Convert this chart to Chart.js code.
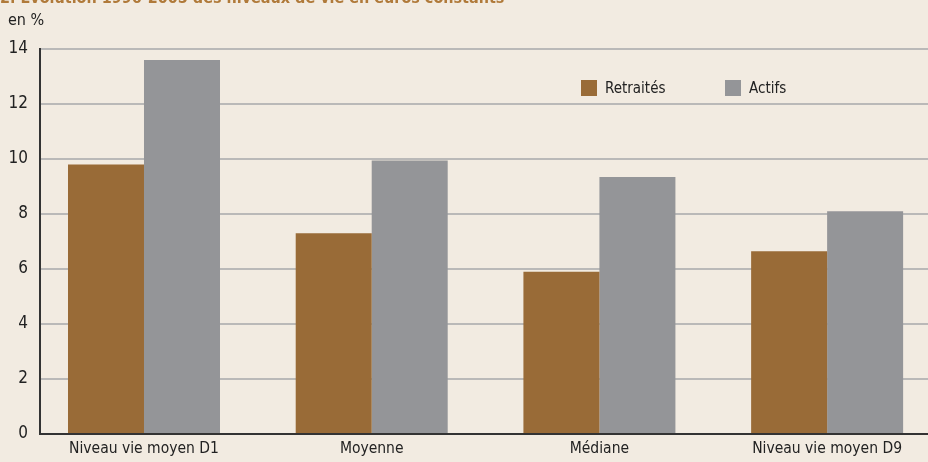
<!DOCTYPE html>
<html>
<head>
<meta charset="utf-8">
<script src="https://cdn.jsdelivr.net/npm/chart.js@4"></script>
<style>
  html, body { margin: 0; padding: 0; background: #F2EBE1; overflow: hidden; }
  #wrap { position: relative; width: 928px; height: 462px; }
  #title { position: absolute; left: 0; top: -12px; font: bold 16px "DejaVu Sans Condensed", "Liberation Sans", sans-serif; line-height: 19px; color: #B07A3A; white-space: nowrap; }
  #unit { position: absolute; left: 8px; top: 10px; font: 16px "DejaVu Sans Condensed", "Liberation Sans", sans-serif; color: #222; }
  #legend { position: absolute; top: 80px; left: 581px; font: 15px "DejaVu Sans Condensed", "Liberation Sans", sans-serif; color: #222; }
  .item { position: absolute; top: 0; white-space: nowrap; line-height: 16px; }
  .box { display: inline-block; width: 16px; height: 16px; vertical-align: top; margin-right: 8px; }
</style>
</head>
<body>
<div id="wrap">
  <canvas id="chart" width="928" height="462"></canvas>
  <div id="title">2. Évolution 1996-2005 des niveaux de vie en euros constants</div>
  <div id="unit">en %</div>
  <div id="legend"></div>
</div>
<script>
const categories = ['Niveau vie moyen D1', 'Moyenne', 'Médiane', 'Niveau vie moyen D9'];
const retraites = [9.8, 7.3, 5.9, 6.65];
const actifs = [13.6, 9.95, 9.35, 8.1];
const yTicks = [0, 2, 4, 6, 8, 10, 12, 14];

const colRetraites = '#996B37';
const colActifs = '#949598';
const font = "'DejaVu Sans Condensed', 'Liberation Sans', sans-serif";

const ctx = document.getElementById('chart');

const datasets = [
    { label: 'Retraités', data: categories.map((c, i) => ({ x: i, y: retraites[i] })), backgroundColor: colRetraites },
    { label: 'Actifs', data: categories.map((c, i) => ({ x: i, y: actifs[i] })), backgroundColor: colActifs }
];

// legend built from the datasets
const legend = document.getElementById('legend');
datasets.forEach((ds, i) => {
    const item = document.createElement('div');
    item.className = 'item';
    item.style.left = (i * 144) + 'px';
    item.innerHTML = '<span class="box" style="background:' + ds.backgroundColor + '"></span>' + ds.label;
    legend.appendChild(item);
});

let chart = new Chart(ctx, {
    type: 'bar',
    data: { datasets: datasets },
    options: {
        responsive: false,
        animation: false,
        layout: { padding: { top: 49, right: 0, left: 0, bottom: 0 } },
        categoryPercentage: 0.6675,
        barPercentage: 1,
        plugins: { legend: { display: false }, tooltip: { enabled: false } },
        scales: {
            x: {
                type: 'linear',
                offset: false,
                min: -0.4567,
                max: 3.443,
                afterBuildTicks: axis => { axis.ticks = categories.map((c, i) => ({ value: i })); },
                afterFit: axis => { axis.height = 28; },
                ticks: {
                    callback: v => categories[v],
                    color: '#222',
                    font: { family: font, size: 15.5 },
                    padding: 6,
                    maxRotation: 0,
                    autoSkip: false
                },
                grid: { display: false, drawTicks: false },
                border: { display: true, color: '#333', width: 2 }
            },
            y: {
                min: 0,
                max: 14,
                afterBuildTicks: axis => { axis.ticks = yTicks.map(v => ({ value: v })); },
                afterFit: axis => { axis.width = 40; },
                ticks: {
                    color: '#222',
                    font: { family: font, size: 17 },
                    padding: 12
                },
                grid: { color: '#BAB9B8', lineWidth: 2, drawTicks: false },
                border: { display: true, color: '#333', width: 2 }
            }
        }
    }
});
</script>
</body>
</html>
